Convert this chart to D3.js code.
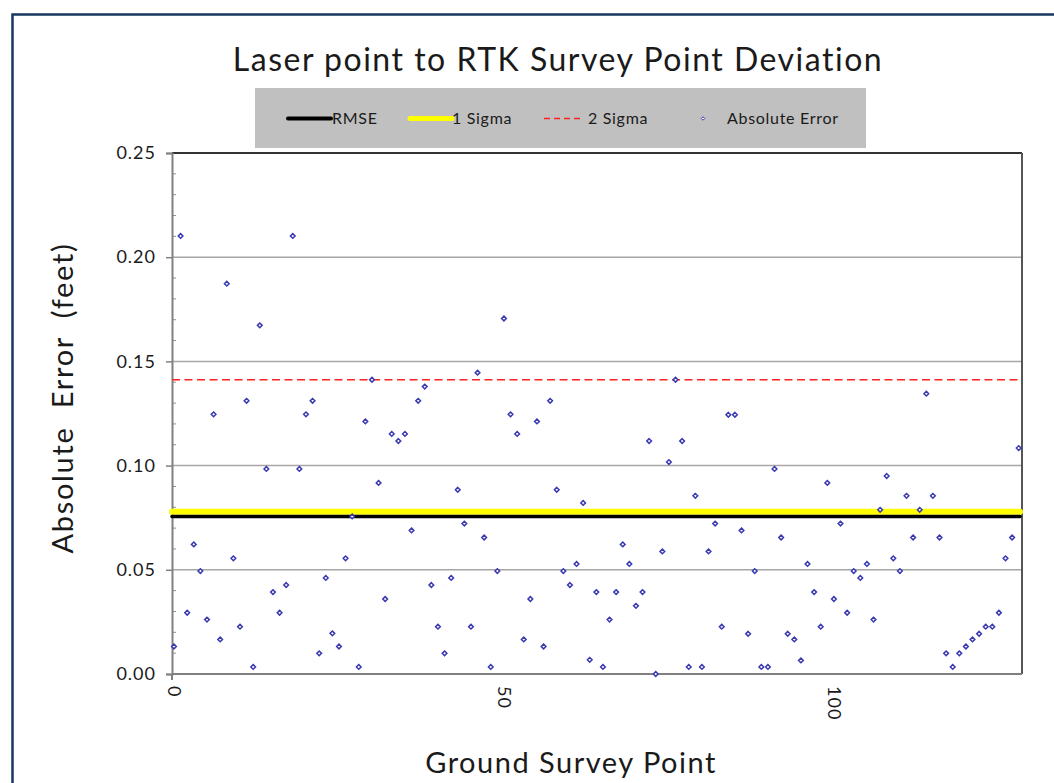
<!DOCTYPE html>
<html>
<head>
<meta charset="utf-8">
<script src="https://cdn.jsdelivr.net/npm/d3@7/dist/d3.min.js"></script>
<style>
  body { margin: 0; background: #fff; }
  text { font-family: Lato, "Open Sans", sans-serif; fill: #1a1a1a; }
</style>
</head>
<body>
<script>

// absolute error per ground survey point (feet), index = point number
var absError = [
    0.0132, 0.2102, 0.0294, 0.0622, 0.0494, 0.0261, 0.1246, 0.0166, 0.1873, 0.0555,
    0.0227, 0.1311, 0.0034, 0.1673, 0.0984, 0.0393, 0.0294, 0.0427, 0.2102, 0.0984,
    0.1246, 0.1311, 0.0099, 0.0461, 0.0195, 0.0132, 0.0555, 0.0756, 0.0034, 0.1212,
    0.1412, 0.0917, 0.0360, 0.1152, 0.1118, 0.1152, 0.0689, 0.1311, 0.1379, 0.0427,
    0.0227, 0.0099, 0.0461, 0.0884, 0.0722, 0.0227, 0.1446, 0.0655, 0.0034, 0.0494,
    0.1706, 0.1246, 0.1152, 0.0166, 0.0360, 0.1212, 0.0132, 0.1311, 0.0884, 0.0494,
    0.0427, 0.0528, 0.0821, 0.0068, 0.0393, 0.0034, 0.0261, 0.0393, 0.0622, 0.0528,
    0.0327, 0.0393, 0.1118, 0.0000, 0.0588, 0.1017, 0.1412, 0.1118, 0.0034, 0.0855,
    0.0034, 0.0588, 0.0722, 0.0227, 0.1244, 0.1244, 0.0689, 0.0193, 0.0494, 0.0034,
    0.0034, 0.0984, 0.0655, 0.0193, 0.0166, 0.0065, 0.0528, 0.0393, 0.0227, 0.0917,
    0.0360, 0.0722, 0.0294, 0.0494, 0.0461, 0.0528, 0.0261, 0.0788, 0.0950, 0.0555,
    0.0494, 0.0855, 0.0655, 0.0788, 0.1345, 0.0855, 0.0655, 0.0099, 0.0034, 0.0099,
    0.0132, 0.0166, 0.0193, 0.0227, 0.0227, 0.0294, 0.0555, 0.0655, 0.1084
];

var statNames = ["RMSE", "1 Sigma", "2 Sigma"];
var statValues = [0.0756, 0.0779, 0.1412];

var yTicks = [0, 0.05, 0.10, 0.15, 0.20, 0.25];
var xTicks = [0, 50, 100];

// note: "top" is a reserved window property, so use plot* names
var plotLeft = 172, plotRight = 1022, plotTop = 153, plotBottom = 674;

var x = d3.scaleLinear()
    .domain([-0.3, 128.5])
    .range([plotLeft, plotRight]);

var y = d3.scaleLinear()
    .domain([0, 0.25])
    .range([plotBottom, plotTop]);

// excel-style diamond: as wide as it is tall
var squareDiamond = {
    draw: function(context, size) {
        var r = Math.sqrt(size / 2);
        context.moveTo(0, -r);
        context.lineTo(r, 0);
        context.lineTo(0, r);
        context.lineTo(-r, 0);
        context.closePath();
    }
};

var svg = d3.select("body").append("svg")
    .attr("width", 1054)
    .attr("height", 783);

// outer frame
svg.append("rect")
    .attr("x", 12.5)
    .attr("y", 14.5)
    .attr("width", 1100)
    .attr("height", 900)
    .attr("fill", "#fff")
    .attr("stroke", "#17375e")
    .attr("stroke-width", 2.5);

// title
svg.append("text")
    .attr("x", 558)
    .attr("y", 71)
    .attr("text-anchor", "middle")
    .style("font-size", "32px")
    .style("letter-spacing", "1.5px")
    .text("Laser point to RTK Survey Point Deviation");

// legend
var legend = svg.append("g");
legend.append("rect")
    .attr("x", 255)
    .attr("y", 88)
    .attr("width", 611)
    .attr("height", 60)
    .attr("fill", "#c0c0c0");

var ly = 118.5;
function legendText(tx, s) {
    legend.append("text")
        .attr("x", tx).attr("y", ly + 5.5)
        .style("font-size", "16px")
        .style("letter-spacing", "0.7px")
        .text(s);
}

legend.append("line")
    .attr("x1", 288).attr("x2", 331).attr("y1", ly).attr("y2", ly)
    .attr("stroke", "#000").attr("stroke-width", 4).attr("stroke-linecap", "round");
legendText(332, statNames[0]);

legend.append("line")
    .attr("x1", 410).attr("x2", 452).attr("y1", ly).attr("y2", ly)
    .attr("stroke", "#ffff00").attr("stroke-width", 5).attr("stroke-linecap", "round");
legendText(452, statNames[1]);

legend.append("line")
    .attr("x1", 544).attr("x2", 581).attr("y1", ly).attr("y2", ly)
    .attr("stroke", "#ff2020").attr("stroke-width", 1.3).attr("stroke-dasharray", "6,4");
legendText(588, statNames[2]);

legend.append("path")
    .attr("transform", "translate(703," + ly + ")")
    .attr("d", d3.symbol().type(squareDiamond).size(6)())
    .attr("fill", "#fff").attr("stroke", "#3434a8").attr("stroke-width", 1);
legendText(727, "Absolute Error");

// gridlines
svg.append("g").selectAll("line")
    .data(yTicks.filter(function(d) { return d > 0 && d < 0.25; }))
    .enter().append("line")
    .attr("x1", plotLeft).attr("x2", plotRight)
    .attr("y1", function(d) { return y(d); })
    .attr("y2", function(d) { return y(d); })
    .attr("stroke", "#a6a6a6")
    .attr("stroke-width", 1.5);

// plot frame top / right
svg.append("line")
    .attr("x1", plotLeft).attr("x2", plotRight).attr("y1", plotTop).attr("y2", plotTop)
    .attr("stroke", "#333").attr("stroke-width", 2);
svg.append("line")
    .attr("x1", plotRight).attr("x2", plotRight).attr("y1", plotTop).attr("y2", plotBottom)
    .attr("stroke", "#555").attr("stroke-width", 2);

// minor y ticks (inside)
svg.append("g").selectAll("line")
    .data(d3.range(1, 25).filter(function(i) { return i % 5 !== 0; }).map(function(i) { return i / 100; }))
    .enter().append("line")
    .attr("x1", plotLeft).attr("x2", plotLeft + 4)
    .attr("y1", function(d) { return y(d); })
    .attr("y2", function(d) { return y(d); })
    .attr("stroke", "#909090");

// y axis
var yAxis = d3.axisLeft(y)
    .tickValues(yTicks)
    .tickSize(6)
    .tickPadding(10)
    .tickFormat(d3.format(".2f"));

var gy = svg.append("g")
    .attr("transform", "translate(" + plotLeft + ",0)")
    .call(yAxis);
gy.select(".domain").attr("stroke", "#808080").attr("stroke-width", 2);
gy.selectAll(".tick line").attr("stroke", "#808080").attr("stroke-width", 1.5);
gy.selectAll(".tick text")
    .style("font-size", "18px")
    .style("letter-spacing", "1px")
    .style("font-family", "Lato, sans-serif")
    .attr("fill", "#1a1a1a");
gy.append("line")
    .attr("x1", 0).attr("x2", 0).attr("y1", plotBottom).attr("y2", plotBottom + 6)
    .attr("stroke", "#808080").attr("stroke-width", 2);

// x axis
svg.append("line")
    .attr("x1", plotLeft).attr("x2", plotRight).attr("y1", plotBottom).attr("y2", plotBottom)
    .attr("stroke", "#808080").attr("stroke-width", 2);

svg.append("g").selectAll("text")
    .data(xTicks)
    .enter().append("text")
    .attr("transform", function(d) { return "translate(" + x(d) + "," + (plotBottom + 12) + ") rotate(90)"; })
    .attr("dy", "0.35em")
    .style("font-size", "18px")
    .style("letter-spacing", "1px")
    .text(function(d) { return d; });

// axis titles
svg.append("text")
    .attr("x", 571)
    .attr("y", 773)
    .attr("text-anchor", "middle")
    .style("font-size", "29px")
    .style("letter-spacing", "1.5px")
    .text("Ground Survey Point");

svg.append("text")
    .attr("transform", "translate(73,398) rotate(-90)")
    .attr("text-anchor", "middle")
    .style("font-size", "29px")
    .style("letter-spacing", "1.7px")
    .style("white-space", "pre")
    .text("Absolute  Error  (feet)");

// statistic lines: 1 sigma under RMSE
var xr = x.domain();
[{v: statValues[1], c: "#ffff00", w: 6, dash: null},
 {v: statValues[0], c: "#000", w: 3.5, dash: null},
 {v: statValues[2], c: "#ff2020", w: 1.3, dash: "8,4.5"}].forEach(function(s) {
    svg.append("line")
        .attr("x1", x(xr[0])).attr("x2", x(xr[1]) - 2)
        .attr("y1", y(s.v)).attr("y2", y(s.v))
        .attr("stroke", s.c)
        .attr("stroke-width", s.w)
        .attr("stroke-linecap", s.dash ? "butt" : "round")
        .attr("stroke-dasharray", s.dash);
});

// points
svg.append("g").selectAll("path")
    .data(absError)
    .enter().append("path")
    .attr("transform", function(d, i) { return "translate(" + x(i) + "," + y(d) + ")"; })
    .attr("d", d3.symbol().type(squareDiamond).size(11)())
    .attr("fill", "#fff")
    .attr("stroke", "#3a3ab0")
    .attr("stroke-width", 1.5);

</script>
</body>
</html>
